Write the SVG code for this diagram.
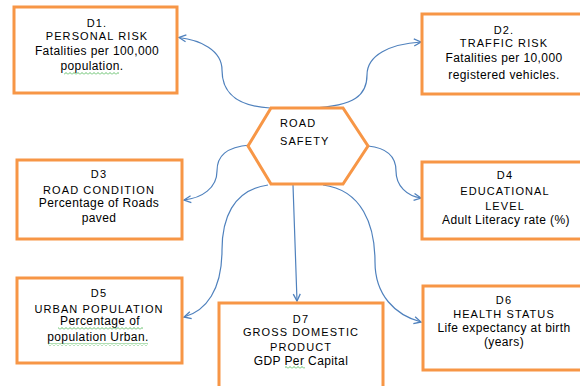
<svg xmlns="http://www.w3.org/2000/svg" width="580" height="386" viewBox="0 0 580 386">
<defs>
<marker id="arr" markerUnits="userSpaceOnUse" markerWidth="10" markerHeight="10" viewBox="0 0 10 10" refX="8" refY="5" orient="auto">
<path d="M1,1.5 L8,5 L1,8.5" fill="none" stroke="#4F81BD" stroke-width="1.3"/>
</marker>
<pattern id="sq" patternUnits="userSpaceOnUse" width="4" height="3">
<path d="M0,2.5 L2,0.5 L4,2.5" fill="none" stroke="#3CB043" stroke-width="0.8"/>
</pattern>
<style>
.box{fill:#fff;stroke:#F79646;stroke-width:3}
.con{fill:none;stroke:#4F81BD;stroke-width:1.2;marker-end:url(#arr)}
.line{fill:none;stroke:#4F81BD;stroke-width:1.2}
text{font-family:"Liberation Sans",Arial,sans-serif;fill:#000;text-anchor:middle}
.up{font-size:11px;letter-spacing:1.1px}
.lo{font-size:12px;letter-spacing:0.4px}
.hx{text-anchor:start}
</style>
</defs>
<rect width="580" height="386" fill="#fff"/>

<g id="connectors">
<path class="con" d="M270,108 C235,106 222,92 222,70 C222,50 200,40 179,37.5"/>
<path class="con" d="M312,108 C355,106 367,95 367,75 C367,55 390,44 421,42"/>
<path class="con" d="M250,145 C226,147 217,156 217,171 C217,188 202,198 184,200"/>
<path class="con" d="M368,146 C388,148 396,158 396,171 C396,186 407,196 421,198"/>
<path class="con" d="M268,185 C232,190 222,220 222,250 C222,290 206,311 184,317"/>
<path class="con" d="M293,185 C295,240 296,270 297,301"/>
<path class="con" d="M323,185 C362,190 375,225 375,262 C375,295 395,315 421,322"/>
</g>

<g id="road-safety">
<polygon class="box" points="248,146 271,108 343,108 368,146 343,184 271,184"/>
<text class="up hx" x="280" y="127">ROAD</text>
<text class="up hx" x="280" y="145">SAFETY</text>
</g>

<g id="d1">
<rect class="box" x="14" y="7" width="163" height="86"/>
<text class="up" x="97" y="27">D1.</text>
<text class="up" x="97" y="40">PERSONAL RISK</text>
<text class="lo" x="97" y="55">Fatalities per 100,000</text>
<text class="lo" x="92" y="70">population.</text>
<rect x="64" y="72" width="55" height="3" fill="url(#sq)"/>
</g>

<g id="d2">
<rect class="box" x="422" y="14" width="166" height="80"/>
<text class="up" x="504" y="34">D2.</text>
<text class="up" x="504" y="47">TRAFFIC RISK</text>
<text class="lo" x="504" y="62">Fatalities per 10,000</text>
<text class="lo" x="504" y="79">registered vehicles.</text>
</g>

<g id="d3">
<rect class="box" x="17" y="160" width="165" height="79"/>
<text class="up" x="99" y="178">D3</text>
<text class="up" x="99" y="194">ROAD CONDITION</text>
<text class="lo" x="99" y="207">Percentage of Roads</text>
<text class="lo" x="99" y="222">paved</text>
</g>

<g id="d4">
<rect class="box" x="422" y="162" width="166" height="77"/>
<text class="up" x="505" y="179">D4</text>
<text class="up" x="505" y="195">EDUCATIONAL</text>
<text class="up" x="505" y="210">LEVEL</text>
<text class="lo" x="506" y="224">Adult Literacy rate (%)</text>
</g>

<g id="d5">
<rect class="box" x="17" y="278" width="165" height="85"/>
<text class="up" x="99" y="297">D5</text>
<text class="up" x="99" y="313">URBAN POPULATION</text>
<text class="lo" x="100" y="325">Percentage of</text>
<text class="lo" x="98" y="341">population Urban.</text>
<rect x="58" y="327" width="85" height="3" fill="url(#sq)"/>
<rect x="48" y="343" width="100" height="3" fill="url(#sq)"/>
</g>

<g id="d7">
<rect class="box" x="219" y="303" width="164" height="90"/>
<text class="up" x="301" y="323">D7</text>
<text class="up" x="301" y="336">GROSS DOMESTIC</text>
<text class="up" x="301" y="351">PRODUCT</text>
<text class="lo" x="301" y="365">GDP Per Capital</text>
<rect x="285" y="366" width="20" height="3" fill="url(#sq)"/>
</g>

<g id="d6">
<rect class="box" x="423" y="286" width="165" height="84"/>
<text class="up" x="504" y="304">D6</text>
<text class="up" x="504" y="318">HEALTH STATUS</text>
<text class="lo" x="504" y="332">Life expectancy at birth</text>
<text class="lo" x="504" y="346">(years)</text>
</g>
</svg>
